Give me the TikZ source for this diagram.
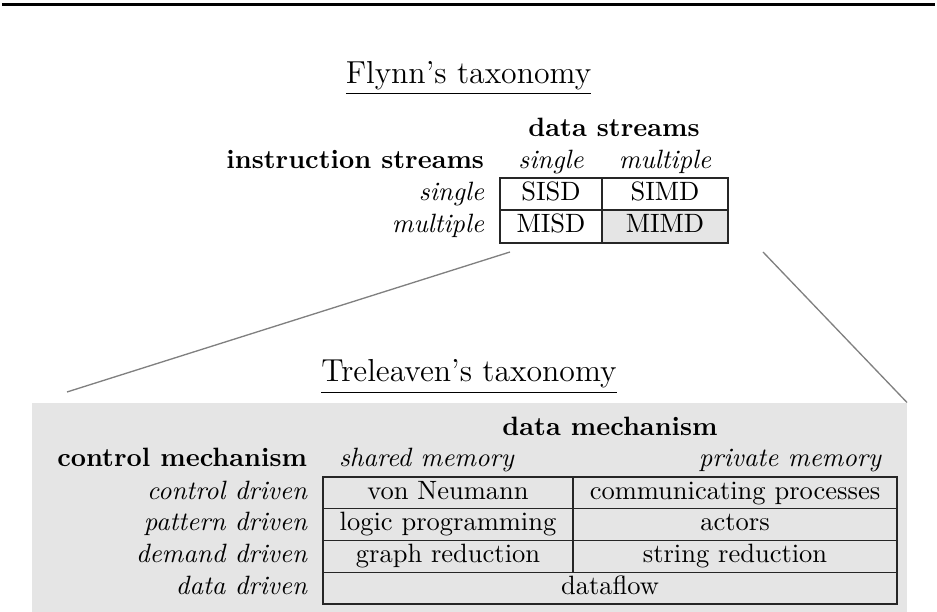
\documentclass[tikz,border=0pt]{standalone}
\usepackage{fontspec}
\begin{document}
\begin{tikzpicture}[x=0.37736pt,y=-0.37736pt,
  lbl/.style={inner sep=0pt, outer sep=0pt},
  hd/.style={lbl, font=\bfseries},
  it/.style={lbl, font=\itshape},
  grid/.style={draw=black!85, line width=0.45pt},
  zoomline/.style={draw=black!50, line width=0.5pt},
  shadefill/.style={fill=black!10},
  title/.style={lbl, font=\large}]
\useasboundingbox (0,0) rectangle (937,612);

% rule across the top
\draw[line width=0.8pt] (2,4.5) -- (935,4.5);

% ---------------- Flynn's taxonomy ----------------
\node[title, anchor=base] (ftitle) at (468.5,83.5) {\underline{Flynn's taxonomy}};

\fill[shadefill] (602,210) rectangle (728,243);
\draw[grid] (500,178) rectangle (728,243);
\draw[grid] (500,210) -- (728,210);
\draw[grid] (602,178) -- (602,243);

\node[hd, anchor=base] (fds) at (614,136.5) {data streams};
\node[hd, anchor=base east] (fis) at (484,168.5) {instruction streams};
\node[it, anchor=base] (fcs) at (551,168.5) {single};
\node[it, anchor=base] (fcm) at (665,168.5) {multiple};
\node[it, anchor=base east] (frs) at (484,200.3) {single};
\node[it, anchor=base east] (frm) at (484,232.5) {multiple};
\node[lbl, anchor=base] (sisd) at (551,200.3) {SISD};
\node[lbl, anchor=base] (simd) at (665,200.3) {SIMD};
\node[lbl, anchor=base] (misd) at (551,232.5) {MISD};
\node[lbl, anchor=base] (mimd) at (665,232.5) {MIMD};

% ---------------- zoom lines ----------------
\coordinate (za) at (510,252);
\coordinate (zb) at (763,252);
\coordinate (zc) at (67,392);
\coordinate (zd) at (907,402.5);
\draw[zoomline] (za) -- (zc);
\draw[zoomline] (zb) -- (zd);

% ---------------- Treleaven's taxonomy ----------------
\node[title, anchor=base] (ttitle) at (469,382) {\underline{Treleaven's taxonomy}};

\fill[shadefill] (32,403) rectangle (907,612);
\draw[grid] (323,477) rectangle (897,604);
\draw[grid] (323,508.75) -- (897,508.75);
\draw[grid] (323,540.5) -- (897,540.5);
\draw[grid] (323,572.25) -- (897,572.25);
\draw[grid] (573,477) -- (573,572.25);

\node[hd, anchor=base] (tdm) at (610,435.3) {data mechanism};
\node[hd, anchor=base east] (tcm) at (307,467) {control mechanism};
\node[it, anchor=base west] (tsm) at (339,467) {shared memory};
\node[it, anchor=base east] (tpm) at (881,467) {private memory};

\node[it, anchor=base east] (r1) at (307,499.3) {control driven};
\node[it, anchor=base east] (r2) at (307,531) {pattern driven};
\node[it, anchor=base east] (r3) at (307,562.8) {demand driven};
\node[it, anchor=base east] (r4) at (307,594.5) {data driven};

\node[lbl, anchor=base] (c11) at (448,499.3) {von Neumann};
\node[lbl, anchor=base] (c12) at (735,499.3) {communicating processes};
\node[lbl, anchor=base] (c21) at (448,531) {logic programming};
\node[lbl, anchor=base] (c22) at (735,531) {actors};
\node[lbl, anchor=base] (c31) at (448,562.8) {graph reduction};
\node[lbl, anchor=base] (c32) at (735,562.8) {string reduction};
\node[lbl, anchor=base] (c41) at (610,594.5) {dataflow};
\end{tikzpicture}
\end{document}
